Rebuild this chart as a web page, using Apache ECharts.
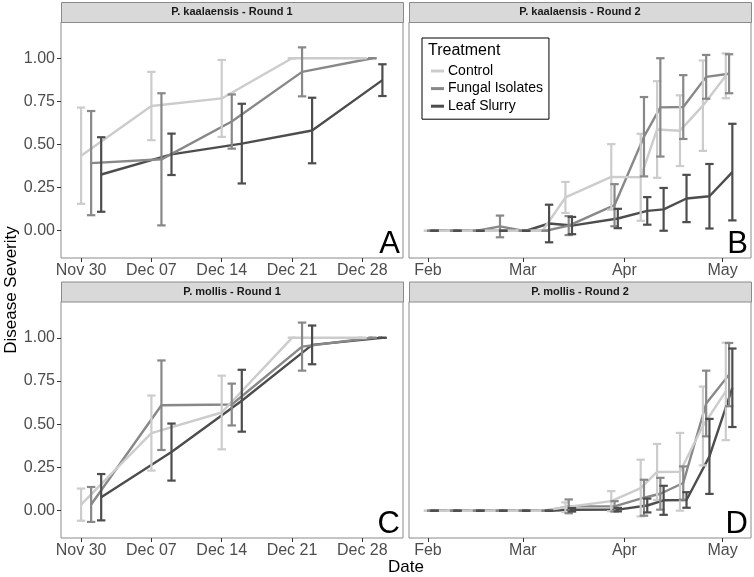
<!DOCTYPE html>
<html>
<head>
<meta charset="utf-8">
<script src="https://cdn.jsdelivr.net/npm/echarts@6/dist/echarts.min.js"></script>
<style>
html,body{margin:0;padding:0;background:#fff;}
#chart{width:754px;height:577px;}
</style>
</head>
<body>
<div id="chart"></div>
<script>
// ---------------- DATA ----------------
const treatments = ['Control', 'Fungal Isolates', 'Leaf Slurry'];

// Round 1: days after Nov 30
const round1TickDays = [0, 7, 14, 21, 28];
const round1TickLabels = ['Nov 30', 'Dec 07', 'Dec 14', 'Dec 21', 'Dec 28'];
const round1Days = [1, 8, 15, 22, 29];

// Round 2: days after Feb 1
const round2TickDays = [0, 29, 60, 90];
const round2TickLabels = ['Feb', 'Mar', 'Apr', 'May'];
const round2Days = [1, 8, 15, 22, 29, 36, 43, 57, 66, 71, 78, 85, 92];

const yTicks = [0, 0.25, 0.5, 0.75, 1];

// P. kaalaensis - Round 1
const kaalR1ControlMean = [0.435, 0.723, 0.767, 1.0, 1.0];
const kaalR1ControlSe   = [0.279, 0.198, 0.223, 0, 0];
const kaalR1FungalMean  = [0.392, 0.414, 0.633, 0.921, 1.0];
const kaalR1FungalSe    = [0.302, 0.383, 0.157, 0.142, 0];
const kaalR1LeafMean    = [0.326, 0.443, 0.505, 0.581, 0.873];
const kaalR1LeafSe      = [0.216, 0.120, 0.231, 0.190, 0.092];

// P. kaalaensis - Round 2
const kaalR2ControlMean = [0, 0, 0, 0, 0, 0, 0.193, 0.312, 0.310, 0.587, 0.580, 0.725, 0.898];
const kaalR2ControlSe   = [0, 0, 0, 0, 0, 0, 0.090, 0.190, 0.252, 0.280, 0.205, 0.262, 0.130];
const kaalR2FungalMean  = [0, 0, 0, 0.025, 0, 0, 0.030, 0.148, 0.545, 0.715, 0.717, 0.892, 0.910];
const kaalR2FungalSe    = [0, 0, 0, 0.063, 0, 0, 0.055, 0.122, 0.230, 0.285, 0.185, 0.127, 0.113];
const kaalR2LeafMean    = [0, 0, 0, 0, 0, 0.042, 0.030, 0.071, 0.115, 0.124, 0.187, 0.200, 0.340];
const kaalR2LeafSe      = [0, 0, 0, 0, 0, 0.109, 0.050, 0.056, 0.080, 0.124, 0.137, 0.187, 0.280];

// P. mollis - Round 1
const mollR1ControlMean = [0.035, 0.449, 0.568, 1.0, 1.0];
const mollR1ControlSe   = [0.093, 0.217, 0.213, 0, 0];
const mollR1FungalMean  = [0.036, 0.610, 0.614, 0.949, 1.0];
const mollR1FungalSe    = [0.101, 0.259, 0.121, 0.139, 0];
const mollR1LeafMean    = [0.078, 0.339, 0.636, 0.959, 1.0];
const mollR1LeafSe      = [0.134, 0.165, 0.179, 0.112, 0];

// P. mollis - Round 2
const mollR2ControlMean = [0, 0, 0, 0, 0, 0, 0.020, 0.055, 0.131, 0.224, 0.225, 0.490, 0.690];
const mollR2ControlSe   = [0, 0, 0, 0, 0, 0, 0.028, 0.058, 0.164, 0.162, 0.225, 0.228, 0.282];
const mollR2FungalMean  = [0, 0, 0, 0, 0, 0, 0.025, 0.025, 0.075, 0.098, 0.160, 0.620, 0.787];
const mollR2FungalSe    = [0, 0, 0, 0, 0, 0, 0.040, 0.030, 0.104, 0.092, 0.096, 0.190, 0.183];
const mollR2LeafMean    = [0, 0, 0, 0, 0, 0, 0.005, 0.006, 0.030, 0.060, 0.062, 0.314, 0.711];
const mollR2LeafSe      = [0, 0, 0, 0, 0, 0, 0.010, 0.010, 0.040, 0.084, 0.045, 0.217, 0.227];

// ---------------- STYLE / LAYOUT ----------------
const colorOf = {'Control': '#cccccc', 'Fungal Isolates': '#888888', 'Leaf Slurry': '#4d4d4d'};
const dodgeOf = {'Control': -1, 'Fungal Isolates': 0, 'Leaf Slurry': 1};
const FONT = '"Liberation Sans", Arial, sans-serif';
const BORDER = '#8a8a8a';

const panels = [
  {title: 'P. kaalaensis - Round 1', letter: 'A', left: 61, top: 22, width: 342, height: 236, round: 1, yLabels: true,
   means: [kaalR1ControlMean, kaalR1FungalMean, kaalR1LeafMean], ses: [kaalR1ControlSe, kaalR1FungalSe, kaalR1LeafSe]},
  {title: 'P. kaalaensis - Round 2', letter: 'B', left: 409, top: 22, width: 342, height: 236, round: 2, yLabels: false,
   means: [kaalR2ControlMean, kaalR2FungalMean, kaalR2LeafMean], ses: [kaalR2ControlSe, kaalR2FungalSe, kaalR2LeafSe]},
  {title: 'P. mollis - Round 1', letter: 'C', left: 61, top: 301.5, width: 342, height: 236.5, round: 1, yLabels: true,
   means: [mollR1ControlMean, mollR1FungalMean, mollR1LeafMean], ses: [mollR1ControlSe, mollR1FungalSe, mollR1LeafSe]},
  {title: 'P. mollis - Round 2', letter: 'D', left: 409, top: 301.5, width: 342, height: 236.5, round: 2, yLabels: false,
   means: [mollR2ControlMean, mollR2FungalMean, mollR2LeafMean], ses: [mollR2ControlSe, mollR2FungalSe, mollR2LeafSe]}
];

function errRender(params, api) {
  const x = api.value(0), lo = api.value(1), hi = api.value(2);
  const pLo = api.coord([x, lo]);
  const pHi = api.coord([x, hi]);
  const hw = 4.2;
  const style = {stroke: api.visual('color'), lineWidth: 2.2, fill: null};
  return {
    type: 'group',
    children: [
      {type: 'line', shape: {x1: pLo[0], y1: pLo[1], x2: pHi[0], y2: pHi[1]}, style: style},
      {type: 'line', shape: {x1: pLo[0] - hw, y1: pLo[1], x2: pLo[0] + hw, y2: pLo[1]}, style: style},
      {type: 'line', shape: {x1: pHi[0] - hw, y1: pHi[1], x2: pHi[0] + hw, y2: pHi[1]}, style: style}
    ]
  };
}

const grids = [], xAxes = [], yAxes = [], series = [], graphics = [];

panels.forEach(function (p, i) {
  grids.push({left: p.left, top: p.top, width: p.width, height: p.height,
    show: true, borderColor: BORDER, borderWidth: 1, backgroundColor: '#fff'});
  const ticks = p.round === 1 ? round1TickDays : round2TickDays;
  const labels = p.round === 1 ? round1TickLabels : round2TickLabels;
  const days = p.round === 1 ? round1Days : round2Days;
  xAxes.push({
    type: 'value', gridIndex: i, position: 'bottom',
    min: p.round === 1 ? -2 : -5.8,
    max: p.round === 1 ? 32.05 : 98.7,
    splitLine: {show: false},
    axisLine: {show: false, onZero: false},
    axisTick: {show: true, inside: false, customValues: ticks, length: 4, lineStyle: {color: '#333', width: 1}},
    axisLabel: {show: true, customValues: ticks, margin: 5, color: '#4d4d4d', fontSize: 16, fontFamily: FONT,
      formatter: function (v) { const k = ticks.indexOf(Math.round(v)); return k >= 0 ? labels[k] : ''; }}
  });
  yAxes.push({
    type: 'value', gridIndex: i, position: 'left', min: -0.158, max: 1.21,
    splitLine: {show: false},
    axisLine: {show: false, onZero: false},
    axisTick: {show: p.yLabels, inside: false, customValues: yTicks, length: 4, lineStyle: {color: '#333', width: 1}},
    axisLabel: {show: p.yLabels, customValues: yTicks, margin: 6, color: '#4d4d4d', fontSize: 16, fontFamily: FONT,
      formatter: function (v) { return v.toFixed(2); }}
  });
  // lines: Leaf, Fungal, Control (control on top)
  [2, 1, 0].forEach(function (t) {
    const name = treatments[t];
    series.push({
      type: 'line', name: name, xAxisIndex: i, yAxisIndex: i,
      data: days.map(function (d, k) { return [d + dodgeOf[name], p.means[t][k]]; }),
      showSymbol: false, symbol: 'none', color: colorOf[name],
      lineStyle: {color: colorOf[name], width: 2.4}, z: 2, silent: true
    });
  });
  [0, 1, 2].forEach(function (t) {
    const name = treatments[t];
    series.push({
      type: 'custom', name: name, xAxisIndex: i, yAxisIndex: i,
      renderItem: errRender, color: colorOf[name], itemStyle: {color: colorOf[name]},
      data: days.map(function (d, k) {
        return [d + dodgeOf[name], p.means[t][k] - p.ses[t][k], p.means[t][k] + p.ses[t][k]];
      }),
      encode: {x: 0, y: [1, 2]}, z: 3, silent: true
    });
  });
  // strip
  graphics.push({type: 'rect', left: p.left, top: p.top - 20, shape: {width: p.width, height: 20},
    style: {fill: '#d9d9d9', stroke: BORDER, lineWidth: 1}, z: 10});
  graphics.push({type: 'text', x: p.left + p.width / 2, y: p.top - 10,
    style: {text: p.title, fill: '#1a1a1a', font: 'bold 11px ' + FONT, textAlign: 'center', textVerticalAlign: 'middle'}, z: 11});
  // panel letter
  graphics.push({type: 'text', x: p.left + p.width - 3, y: p.top + p.height - 14,
    style: {text: p.letter, fill: '#000', font: '31px ' + FONT, textAlign: 'right', textVerticalAlign: 'middle'}, z: 11});
});

// axis titles
graphics.push({type: 'text', x: 406, y: 567,
  style: {text: 'Date', fill: '#000', font: '17px ' + FONT, textAlign: 'center', textVerticalAlign: 'middle'}});
graphics.push({type: 'text', x: 11, y: 290, rotation: Math.PI / 2,
  style: {text: 'Disease Severity', fill: '#000', font: '17px ' + FONT, textAlign: 'center', textVerticalAlign: 'middle'}});
// legend title
graphics.push({type: 'text', x: 428, y: 51,
  style: {text: 'Treatment', fill: '#000', font: '16px ' + FONT, textAlign: 'left', textVerticalAlign: 'middle'}, z: 20});

const option = {
  animation: false,
  backgroundColor: '#fff',
  grid: grids,
  xAxis: xAxes,
  yAxis: yAxes,
  series: series,
  legend: {
    data: treatments, orient: 'vertical', left: 422, top: 38,
    icon: 'rect', itemWidth: 13, itemHeight: 3, itemGap: 3.6,
    padding: [26, 6, 6, 9],
    borderColor: '#000', borderWidth: 1, backgroundColor: '#fff',
    textStyle: {fontSize: 14, fontFamily: FONT, color: '#000', padding: [0, 0, 0, -1]},
    z: 15
  },
  graphic: graphics
};

const chart = echarts.init(document.getElementById('chart'), null, {renderer: 'canvas'});
chart.setOption(option);
</script>
</body>
</html>
